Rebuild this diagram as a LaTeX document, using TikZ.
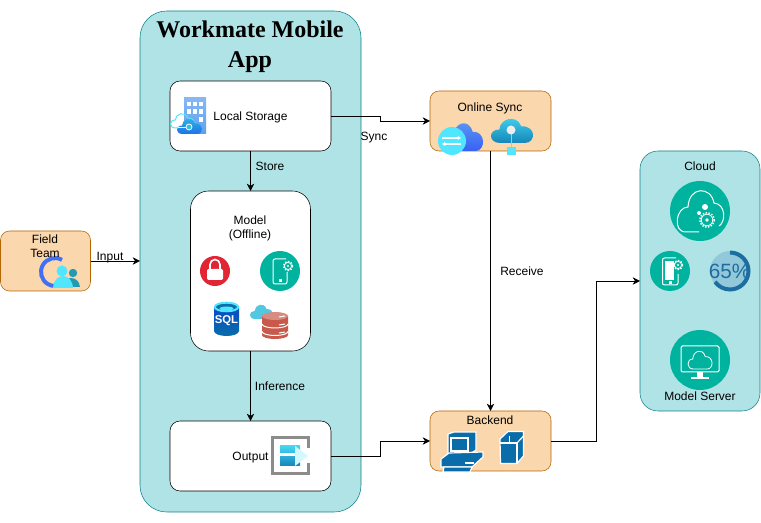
\documentclass[tikz,border=0pt]{standalone}
\usepackage{fontspec}
\setmainfont{Liberation Sans}
\newfontfamily\titlefont{Liberation Serif}
\usetikzlibrary{arrows.meta}
\definecolor{tealfill}{HTML}{B0E3E6}
\definecolor{tealline}{HTML}{0E8088}
\definecolor{orangefill}{HTML}{FAD7AC}
\definecolor{orangeline}{HTML}{B46504}
\definecolor{discgreen}{HTML}{00B39E}
\definecolor{iconcyan}{HTML}{50E6FF}
\definecolor{iconblue}{HTML}{0A6DAA}
\definecolor{iconsky}{HTML}{32BEDD}
\definecolor{iconazure}{HTML}{5EA0EF}
\definecolor{iconrust}{HTML}{C8594B}
\definecolor{icongrey}{HTML}{8C8C8C}
\definecolor{dialblue}{HTML}{1B6E9F}
\definecolor{diallight}{HTML}{93C8DA}
\definecolor{lockred}{HTML}{E12533}
\tikzset{
  appbox/.style={draw=tealline, fill=tealfill, rounded corners=#1, inner sep=0pt, outer sep=0pt},
  whitebox/.style={draw=black, fill=white, rounded corners=#1, inner sep=0pt, outer sep=0pt, align=center},
  orangebox/.style={draw=orangeline, fill=orangefill, rounded corners=9pt*.75, inner sep=0pt, outer sep=0pt},
  txt/.style={inner sep=0pt, align=center, font=\fontsize{9}{10.5}\selectfont},
  oneline/.style={inner sep=0pt, font=\fontsize{9}{10.5}\selectfont, text height=8pt, text depth=1pt},
  link/.style={draw=black, -{Stealth[length=5.5pt,width=5.5pt]}},
  pics/gearicon/.style={code={
    \draw[white, line width=1.1pt, dash pattern=on 1.1pt off 1.1pt] (0,0) circle[radius=4.5];
    \draw[white, line width=.6pt, fill=#1] (0,0) circle[radius=3.6];
    \fill[white] (0,0) circle[radius=1.2];
  }},
}
\newcommand{\cloudshape}{(.22,1) .. controls (-.07,1) and (-.07,.5) .. (.2,.5) .. controls (.2,.12) and (.6,-.1) .. (.72,.38) .. controls (1.08,.35) and (1.08,1) .. (.8,1) -- cycle}
\begin{document}
\begin{tikzpicture}[x=.75pt, y=-.75pt]
\useasboundingbox (0,0) rectangle (761,523);
% containers
\node[appbox=20pt, minimum width=165.75pt, minimum height=375.75pt] (app) at (250.5,261.5){};
\node[appbox=13.5pt, minimum width=90pt, minimum height=195pt] (cloud) at (700,281){};
\node[orangebox, minimum width=67.5pt, minimum height=45pt] (team) at (45.5,261){};
\node[orangebox, minimum width=90.75pt, minimum height=45pt] (sync) at (490.5,121){};
\node[orangebox, minimum width=90.75pt, minimum height=45pt] (backend) at (490.5,441){};
% inner boxes
\node[whitebox=7.5pt, oneline, minimum width=120.75pt, minimum height=52.5pt] (storage) at (250.5,116){Local Storage};
\node[whitebox=13.5pt, minimum width=90pt, minimum height=120pt] (model) at (250.5,271){};
\node[whitebox=7.5pt, oneline, minimum width=120.75pt, minimum height=52.5pt] (output) at (250.5,456){Output};
% connectors
\draw[link] (team.east) -- (app.west |- team.east);
\draw[link] (storage.south) -- (model.north);
\draw[link] (model.south) -- (output.north);
\draw[link] (storage.east) -- ++(49,0) |- (sync.west);
\draw[link] (output.east) -- ++(49,0) |- (backend.west);
\draw[link] (sync.south) -- (backend.north);
\draw[link] (backend.east) -- ++(45,0) |- (cloud.west);
% building with cloud
\shade[top color=iconazure!75!white, bottom color=iconazure] (184,98) rectangle (206,134);
\fill[white] (187,102) rectangle (191,106);
\fill[white] (193,102) rectangle (197,106);
\fill[white] (199,102) rectangle (203,106);
\fill[white] (187,109) rectangle (191,114);
\fill[white] (193,109) rectangle (197,114);
\fill[white] (199,109) rectangle (203,114);
\fill[white] (199,117) rectangle (203,122);
\draw[iconcyan, line width=.75pt, shift={(170.5,112)}, xscale=24, yscale=16] \cloudshape;
\shade[top color=iconsky, bottom color=iconsky!60!blue, shift={(177,117)}, xscale=25, yscale=17] \cloudshape;
\draw[white, line width=.6pt, fill=iconsky] (189,127) circle[radius=3];
\draw[white, line width=.6pt] (178,127) -- (186,127);
% team
\draw[iconazure!70!blue, line width=3pt] (62,259.9) arc[start angle=-60, end angle=-300, radius=14];
\fill[iconsky!80!black] (73,273) circle[radius=4.2];
\fill[iconsky!80!black] (62,287) .. controls (63,275) and (79,275) .. (80,287) -- cycle;
\fill[iconcyan] (62,271) circle[radius=5.5];
\fill[iconcyan] (53,288) .. controls (54,272) and (72,272) .. (73,288) -- cycle;
% lock
\fill[lockred] (215,271) circle[radius=15];
\draw[white, line width=1.2pt] (210,270) -- (210,264.5) arc[start angle=180, end angle=360, radius=5] -- (220,270);
\fill[white, rounded corners=1pt] (207,269) rectangle (223,280);
% phone
\fill[discgreen] (280,271) circle[radius=20];
\draw[white, line width=.75pt, rounded corners=1.5pt] (286,259) -- (273,259) -- (273,284) -- (287,284) -- (287,272);
\fill[white] (278.5,279.5) rectangle (281.5,282);
\pic at (288,266) {gearicon=discgreen};
% sql
\shade[top color=iconblue!70!blue, bottom color=iconblue] (214,308) -- (214,331) arc[start angle=180, end angle=0, x radius=12.5, y radius=5] -- (239,308) -- cycle;
\draw[iconcyan, line width=1.5pt, fill=iconblue] (226.5,307) ellipse[x radius=11.7, y radius=4.3];
\fill[iconcyan] (226.5,308.5) ellipse[x radius=7, y radius=2];
\node[txt, text=white, font=\bfseries\fontsize{8.5}{10}\selectfont] (sqlmark) at (226.5,321){SQL};
% cloud and red discs
\fill[iconsky!85!white, shift={(250,303)}, xscale=23, yscale=16] \cloudshape;
\fill[iconrust] (262,316) -- (262,335) arc[start angle=180, end angle=0, x radius=13, y radius=4] -- (288,316) -- cycle;
\fill[iconrust!70!white] (275,316) ellipse[x radius=13, y radius=4];
\draw[white, line width=.75pt] (262,324) arc[start angle=180, end angle=0, x radius=13, y radius=4];
\draw[white, line width=.75pt] (262,331.5) arc[start angle=180, end angle=0, x radius=13, y radius=4];
\draw[white, line width=.75pt] (279,317) -- (285,316);
\draw[white, line width=.75pt] (279,325) -- (285,324);
\draw[white, line width=.75pt] (279,333) -- (285,332);
% output icon
\fill[icongrey] (271,436) rectangle (310,475);
\fill[white] (274,439) rectangle (307,472);
\fill[icongrey] (307,439) rectangle (310,448);
\fill[white] (306,448) rectangle (311,463);
\shade[top color=iconcyan!60!iconsky, bottom color=iconblue!70!iconsky] (280,446) rectangle (300,466);
\fill[white] (280,453) rectangle (300,456);
\fill[iconcyan!25!white] (295,446) -- (308,456) -- (295,466) -- cycle;
% online sync icons
\shade[top color=iconazure, bottom color=iconazure!60!blue, shift={(446,120)}, xscale=37, yscale=31] \cloudshape;
\fill[iconcyan] (452,141) circle[radius=14];
\draw[white, line width=.9pt, -{Stealth[length=2.5pt,width=3pt]}] (442,138) -- (461,138);
\draw[white, line width=.9pt, {Stealth[length=2.5pt,width=3pt]}-] (442,144) -- (461,144);
\shade[top color=iconcyan!70!iconsky, bottom color=iconblue!70!iconsky, shift={(491,116)}, xscale=42, yscale=27] \cloudshape;
\draw[white!75!black, line width=.75pt] (511,130) -- (511,148);
\fill[white!93!black] (511,130) circle[radius=4.5];
\fill[iconcyan] (507,147) rectangle (516,155);
% backend icons
\draw[white, line width=.9pt, fill=iconblue] (448,434) -- (454,432) -- (476,432) -- (476,450) -- (470,454) -- (448,454) -- cycle;
\draw[white, line width=.9pt, fill=iconblue] (451,438) rectangle (468,451);
\draw[white, line width=.9pt, fill=iconblue] (441,459) -- (449,453) -- (483,452) -- (483,457) -- (472,467) -- (441,467) -- cycle;
\fill[white] (465,462) rectangle (474,464);
\draw[white, line width=.9pt, fill=iconblue] (444,467) -- (472,467) -- (470,472) -- (443,472) -- cycle;
\draw[white, line width=.9pt, fill=iconblue] (500,439) -- (508,431.5) -- (523.5,431.5) -- (523.5,456) -- (517,463.5) -- (500.5,463.5) -- cycle;
\draw[white, line width=.9pt] (500,443) -- (517,443) -- (517,463.5);
\draw[white, line width=.9pt] (517,443) -- (523.5,436);
\draw[white, line width=.75pt] (509,436) -- (509,443);
% cloud panel icons
\fill[discgreen] (700,211) circle[radius=30];
\draw[white, line width=.75pt] (699,232) -- (686,232) .. controls (672,232) and (676,207) .. (688,207) .. controls (689,186) and (711,186) .. (714,203) .. controls (726,204) and (726,222) .. (719,226);
\fill[white] (705,207) circle[radius=3];
\fill[white] (699,213) circle[radius=2];
\pic[scale=1.6] at (707,220) {gearicon=discgreen};
\fill[discgreen] (670,271) circle[radius=20];
\draw[white, line width=.75pt, rounded corners=1.5pt] (676,258) -- (662.5,258) -- (662.5,285) -- (678,285) -- (678,274);
\fill[white] (664.5,261) rectangle (674,280);
\fill[white] (668.5,281.5) rectangle (671.5,284);
\pic at (678,265) {gearicon=discgreen};
\fill[diallight] (730,271) circle[radius=20];
\draw[dialblue, line width=3pt] (730,252.5) arc[start angle=-90, end angle=144, radius=18.5];
\node[txt, text=dialblue, font=\fontsize{15.5}{16}\selectfont] (dialtext) at (729.5,271){65\%};
\fill[discgreen] (700,360) circle[radius=30];
\draw[white, line width=.75pt, rounded corners=1pt] (681,346) rectangle (719,372);
\fill[white] (697,372) rectangle (703,377);
\fill[white] (691,377) rectangle (709,379);
\draw[white, line width=.6pt, shift={(688,349)}, xscale=24, yscale=20] \cloudshape;
% labels
\node[txt, font=\titlefont\bfseries\fontsize{18}{22.5}\selectfont] (apptitle) at (250,47){Workmate Mobile\\App};
\node[txt] (teamlabel) at (45,246.5){Field\\Team};
\node[txt] (modellabel) at (250,228){Model\\(Offline)};
\node[oneline] (synclabel) at (490,107){Online Sync};
\node[oneline] (backendlabel) at (490,420){Backend};
\node[oneline] (cloudlabel) at (700,166){Cloud};
\node[oneline] (serverlabel) at (700,396){Model Server};
\node[oneline] (inputedge) at (110,256){Input};
\node[oneline] (storeedge) at (270,166){Store};
\node[oneline] (syncedge) at (374,136){Sync};
\node[oneline] (receiveedge) at (522,271){Receive};
\node[oneline] (inferenceedge) at (280,386){Inference};
\end{tikzpicture}
\end{document}
